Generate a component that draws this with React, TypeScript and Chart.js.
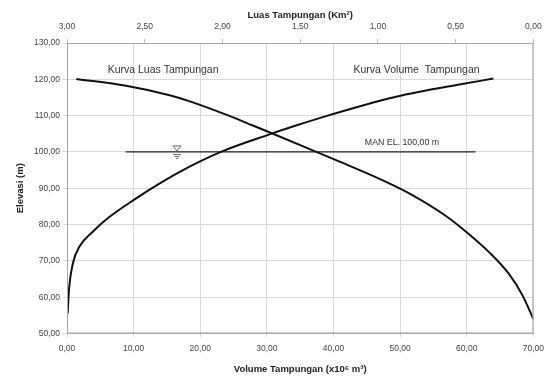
import React, { useEffect, useRef } from "react";
import { Chart, registerables } from "chart.js";

Chart.register(...registerables);

// Kurva Volume Tampungan (x10^6 m3 vs elevasi)
const volumeValues = [0.1, 0.3, 0.9, 1.9, 3.9, 6.3, 10.2, 13.8, 17.0, 23.1, 30.5, 34.6, 39.5, 49.4, 59.3, 64.0];
const volumeElev = [55.5, 62.0, 69.4, 74.0, 78.1, 82.0, 87.0, 91.2, 94.6, 100.0, 104.9, 107.4, 110.2, 115.2, 118.7, 120.2];

// Kurva Luas Tampungan (Km2 vs elevasi)
const areaValues = [0.0, 0.07, 0.157, 0.285, 0.41, 0.56, 0.79, 1.0, 1.25, 1.45, 1.675, 1.8, 1.96, 2.2, 2.34, 2.62, 2.94];
const areaElev = [54.0, 60.5, 66.4, 72.4, 77.2, 82.3, 88.4, 92.8, 97.4, 101.0, 105.0, 107.2, 110.0, 113.8, 115.6, 118.2, 120.1];

// Muka air normal
const manVolume = [8.8, 61.3];
const manElev = [100, 100];

const yTicks = [50, 60, 70, 80, 90, 100, 110, 120, 130];
const volTicks = [0, 10, 20, 30, 40, 50, 60, 70];
const areaTicks = [0, 0.5, 1, 1.5, 2, 2.5, 3];

const labelLuas = { text: "Kurva Luas Tampungan", vol: 6.1, elev: 122.6, size: 10.5 };
const labelVolume = { text: "Kurva Volume  Tampungan", vol: 43.0, elev: 122.4, size: 10.5 };
const labelMan = { text: "MAN EL. 100,00 m", vol: 44.7, elev: 102.6, size: 8.8 };
const markerPos = { vol: 16.5, elev: 100 };

const fmt = (v: number) => v.toFixed(2).replace(".", ",");
const FONT = "'Liberation Sans', Arial, sans-serif";

export default function App() {
  const ref = useRef<HTMLCanvasElement | null>(null);
  useEffect(() => {
    document.body.style.margin = "0";
    const canvas = ref.current;
    if (!canvas) return;

    const annotate = {
      id: "annotate",
      afterDatasetsDraw(chart: any) {
        const ctx = chart.ctx;
        const x = chart.scales.x;
        const y = chart.scales.y;
        const ca = chart.chartArea;
        ctx.save();
        ctx.strokeStyle = "#a6a6a6";
        ctx.lineWidth = 1;
        ctx.strokeRect(ca.left + 0.5, ca.top + 0.5, ca.right - ca.left - 1, ca.bottom - ca.top - 1);
        ctx.fillStyle = "#333";
        ctx.textBaseline = "middle";
        ctx.textAlign = "left";
        for (const l of [labelLuas, labelVolume, labelMan]) {
          ctx.font = `${l.size}px ${FONT}`;
          ctx.fillText(l.text, x.getPixelForValue(l.vol), y.getPixelForValue(l.elev));
        }
        // water level marker
        const mx = x.getPixelForValue(markerPos.vol);
        const my = y.getPixelForValue(markerPos.elev);
        ctx.strokeStyle = "#444";
        ctx.lineWidth = 0.8;
        ctx.beginPath();
        ctx.moveTo(mx - 4, my - 6);
        ctx.lineTo(mx + 4, my - 6);
        ctx.lineTo(mx, my - 1);
        ctx.closePath();
        ctx.stroke();
        ctx.beginPath();
        ctx.moveTo(mx - 4, my + 2.5);
        ctx.lineTo(mx + 4, my + 2.5);
        ctx.moveTo(mx - 2.5, my + 4.5);
        ctx.lineTo(mx + 2.5, my + 4.5);
        ctx.moveTo(mx - 1, my + 6.5);
        ctx.lineTo(mx + 1, my + 6.5);
        ctx.stroke();
        ctx.restore();
      },
    };

    const tickFont = { family: FONT, size: 8.5 };
    const titleFont = { family: FONT, size: 9.5, weight: "bold" as const };

    const chart = new Chart(canvas, {
      type: "scatter",
      data: {
        datasets: [
          {
            label: "Volume",
            data: volumeValues.map((v, i) => ({ x: v, y: volumeElev[i] })),
            xAxisID: "x",
            showLine: true,
            borderColor: "#111",
            borderWidth: 2,
            pointRadius: 0,
            cubicInterpolationMode: "monotone",
          },
          {
            label: "Luas",
            data: areaValues.map((v, i) => ({ x: v, y: areaElev[i] })),
            xAxisID: "x2",
            showLine: true,
            borderColor: "#111",
            borderWidth: 2,
            pointRadius: 0,
            cubicInterpolationMode: "monotone",
          },
          {
            label: "MAN",
            data: manVolume.map((v, i) => ({ x: v, y: manElev[i] })),
            xAxisID: "x",
            showLine: true,
            borderColor: "#222",
            borderWidth: 1.2,
            pointRadius: 0,
          },
        ],
      },
      options: {
        responsive: false,
        animation: false,
        layout: { padding: { left: 0, right: 11, top: 0, bottom: 0 } },
        plugins: { legend: { display: false }, tooltip: { enabled: false } },
        scales: {
          x: {
            type: "linear",
            position: "bottom",
            min: 0,
            max: 70,
            afterBuildTicks: (s: any) => { s.ticks = volTicks.map((v) => ({ value: v })); },
            ticks: { callback: (v: any) => fmt(Number(v)), font: tickFont, color: "#444", padding: 6, maxRotation: 0 },
            grid: { color: "#d9d9d9", tickLength: 4 },
            border: { color: "#a6a6a6" },
            title: { display: true, text: "Volume Tampungan (x10⁶ m³)", font: titleFont, color: "#222", padding: { top: 1, bottom: 1 } },
            afterFit: (s: any) => { s.height = 42.5; },
          },
          x2: {
            type: "linear",
            position: "top",
            min: 0,
            max: 3,
            reverse: true,
            afterBuildTicks: (s: any) => { s.ticks = areaTicks.map((v) => ({ value: v })); },
            ticks: { callback: (v: any) => fmt(Number(v)), font: tickFont, color: "#444", padding: 7, maxRotation: 0 },
            grid: { drawOnChartArea: false, color: "#bfbfbf", tickLength: 4 },
            border: { color: "#a6a6a6" },
            title: { display: true, text: "Luas Tampungan (Km²)", font: titleFont, color: "#222", padding: { top: 10, bottom: 1 } },
            afterFit: (s: any) => { s.height = 43; },
          },
          y: {
            type: "linear",
            min: 50,
            max: 130,
            afterBuildTicks: (s: any) => { s.ticks = yTicks.map((v) => ({ value: v })); },
            ticks: { callback: (v: any) => fmt(Number(v)), font: tickFont, color: "#444", padding: 3 },
            grid: { color: "#d9d9d9", tickLength: 4 },
            border: { color: "#a6a6a6" },
            title: { display: true, text: "Elevasi (m)", font: titleFont, color: "#222", padding: { top: 15, bottom: 1 } },
            afterFit: (s: any) => { s.width = 67; },
          },
        },
      },
      plugins: [annotate],
    } as any);
    return () => chart.destroy();
  }, []);
  return (
    <div style={{ width: 550, height: 376 }}>
      <canvas ref={ref} width={550} height={376} style={{ display: "block", width: 550, height: 376 }} />
    </div>
  );
}
